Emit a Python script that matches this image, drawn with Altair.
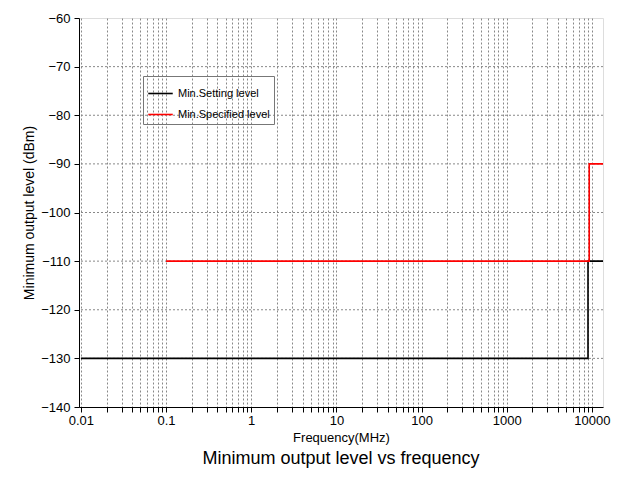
import altair as alt
import pandas as pd

# step series (frequency MHz, level dBm)
setting_freq = [0.01, 9000, 13500]
setting_level = [-130, -110, -110]
spec_freq = [0.1, 9300, 13500]
spec_level = [-110, -90, -90]

decades = [0.01, 0.1, 1, 10, 100, 1000, 10000]
x_grid = [round(d * m, 6) for d in decades for m in range(1, 10) if d * m <= 13500]
y_ticks = list(range(-140, -55, 5))
y_grid = list(range(-130, -60, 10))

df = pd.concat([
    pd.DataFrame({'f': setting_freq, 'lvl': setting_level, 's': 'Min.Setting level'}),
    pd.DataFrame({'f': spec_freq, 'lvl': spec_level, 's': 'Min.Specified level'}),
])

font = 'Liberation Sans'
xscale = alt.Scale(type='log', domain=[0.0095, 13500], nice=False)
yscale = alt.Scale(domain=[-140, -60], nice=False)

grid = alt.Chart(pd.DataFrame({'g': y_grid})).mark_rule(
    color='#888', strokeDash=[2, 2], strokeWidth=1).encode(y=alt.Y('g:Q', scale=yscale))

lines = alt.Chart(df).mark_line(interpolate='step-after', strokeWidth=1.6).encode(
    x=alt.X('f:Q', scale=xscale, title='Frequency(MHz)',
            axis=alt.Axis(values=x_grid, gridDash=[2, 2], gridColor='#888', format='~g',
                          labelExpr="indexof([0.01,0.1,1,10,100,1000,10000], datum.value) >= 0 ? datum.label : ''",
                          domainColor='black', tickColor='black', labelFontSize=13, titleFontSize=13,
                          labelColor='black', titleColor='black', titleFontWeight='normal',
                          labelFont=font, titleFont=font, labelFlush=False, labelOverlap=False)),
    y=alt.Y('lvl:Q', scale=yscale, title='Minimum output level (dBm)',
            axis=alt.Axis(values=y_ticks, grid=False,
                          labelExpr="datum.value % 10 == 0 ? datum.label : ''",
                          domainColor='black', tickColor='black', labelFontSize=13, titleFontSize=14,
                          labelColor='black', titleColor='black', titleFontWeight='normal',
                          labelFont=font, titleFont=font, labelPadding=4)),
    color=alt.Color('s:N', scale=alt.Scale(range=['black', 'red']),
                    legend=alt.Legend(title=None, orient='none', legendX=64, legendY=58,
                                      symbolType='stroke', symbolSize=600, symbolStrokeWidth=1.6,
                                      strokeColor='#777', padding=4, labelFont=font,
                                      labelFontSize=11, labelColor='black', rowPadding=2)),
)

chart = alt.layer(grid, lines).properties(
    width=524, height=389,
    padding={'left': 14, 'top': 4, 'right': 5, 'bottom': 5},
    title=alt.TitleParams('Minimum output level vs frequency', orient='bottom',
                          font=font, fontSize=18, fontWeight='normal', color='black', offset=6),
).configure_view(stroke='black', strokeWidth=1.5).configure(background='white')

chart.save("out.html", embed_options={"renderer": "svg", "actions": False})
